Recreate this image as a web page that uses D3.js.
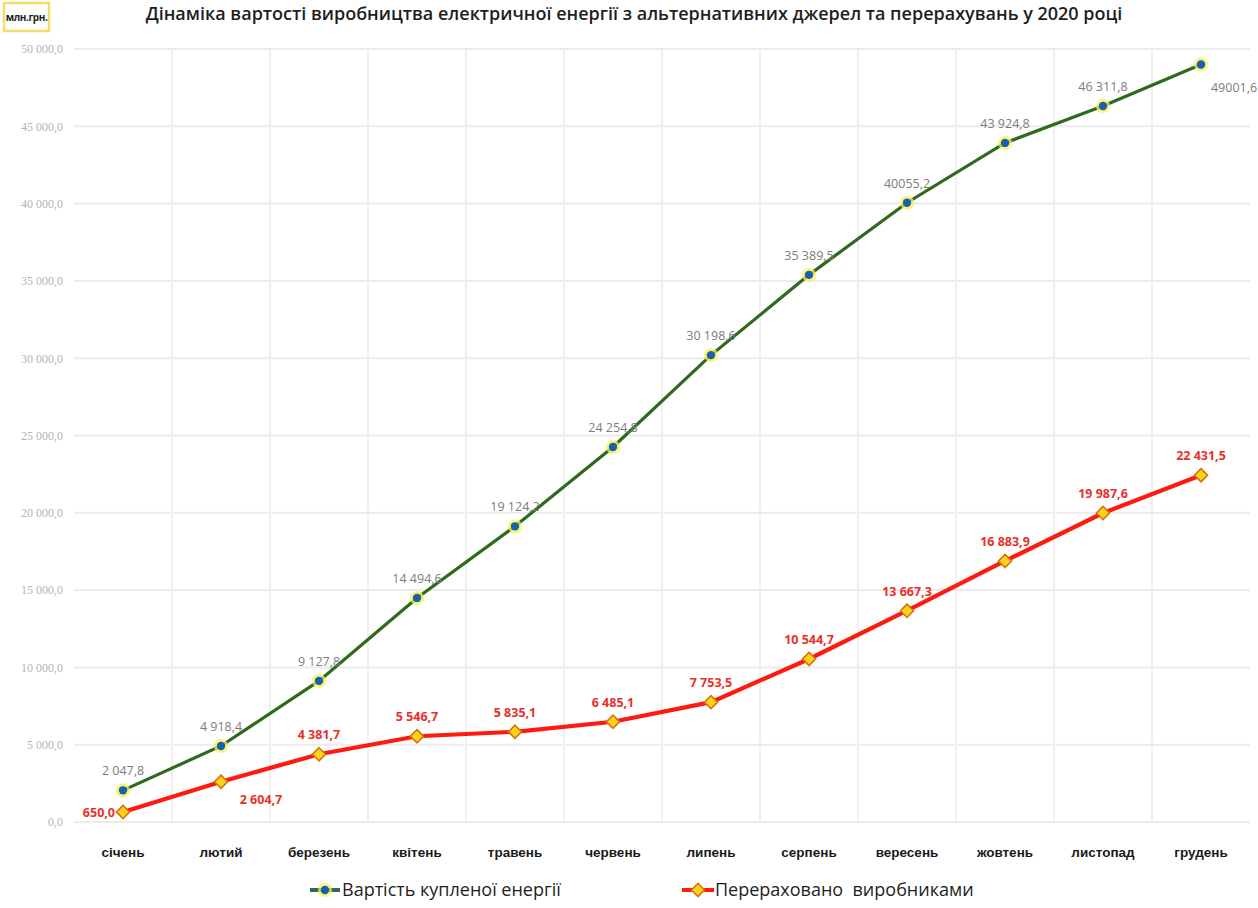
<!DOCTYPE html>
<html>
<head>
<meta charset="utf-8">
<script src="https://cdn.jsdelivr.net/npm/d3@7"></script>
<style>
  body { margin: 0; background: #fff; }
  svg { display: block; font-family: "Open Sans", sans-serif; }
</style>
</head>
<body>
<svg id="chart" width="1258" height="908"></svg>
<script>
const months = ["січень", "лютий", "березень", "квітень", "травень", "червень",
  "липень", "серпень", "вересень", "жовтень", "листопад", "грудень"];
const purchased = [2047.8, 4918.4, 9127.8, 14494.6, 19124.2, 24254.8,
  30198.6, 35389.5, 40055.2, 43924.8, 46311.8, 49001.6];
const transferred = [650.0, 2604.7, 4381.7, 5546.7, 5835.1, 6485.1,
  7753.5, 10544.7, 13667.3, 16883.9, 19987.6, 22431.5];
const yTicks = [0, 5000, 10000, 15000, 20000, 25000, 30000, 35000, 40000, 45000, 50000];

const title = "Дінаміка вартості виробництва електричної енергії з альтернативних джерел та перерахувань у 2020 році";
const unitLabel = "млн.грн.";
const seriesNames = ["Вартість купленої енергії", "Перераховано  виробниками"];

// number format like "49 001,6"
const fmtNum = (v, sep = " ") => {
  const [i, f] = v.toFixed(1).split(".");
  return i.replace(/\B(?=(\d{3})+(?!\d))/g, sep) + "," + f;
};
// two labels in the source are printed without the thousands space
const noSpace = new Set([8, 11]);

const svg = d3.select("#chart");
const margin = { left: 74, right: 8, top: 49, bottom: 86 };
const width = 1258, height = 908;

const x = d3.scaleBand().domain(months).range([margin.left, width - margin.right]);
const y = d3.scaleLinear().domain([0, 50000]).range([height - margin.bottom, margin.top]);
const cx = (d) => x(d) + x.bandwidth() / 2;

// grid
const grid = svg.append("g").attr("class", "grid");
grid.selectAll("line.h")
  .data(yTicks)
  .join("line")
  .attr("class", "h")
  .attr("x1", margin.left).attr("x2", width - margin.right)
  .attr("y1", (d) => y(d)).attr("y2", (d) => y(d))
  .attr("stroke", "#ececec").attr("stroke-width", 2);
grid.selectAll("line.v")
  .data(months.slice(1))
  .join("line")
  .attr("class", "v")
  .attr("x1", (d) => x(d)).attr("x2", (d) => x(d))
  .attr("y1", y(50000)).attr("y2", y(0))
  .attr("stroke", "#f0f0f0").attr("stroke-width", 2);

// y axis labels
const yAxis = svg.append("g")
  .attr("transform", `translate(${margin.left - 8},0)`)
  .call(d3.axisLeft(y).tickValues(yTicks).tickFormat((d) => fmtNum(d)).tickSize(0));
yAxis.select(".domain").remove();
yAxis.selectAll("text")
  .attr("fill", "#b4b4b4")
  .attr("font-family", "'Liberation Serif', serif")
  .attr("font-size", 12);

// x axis labels
const xAxis = svg.append("g")
  .attr("transform", `translate(0,${y(0) + 20})`)
  .call(d3.axisBottom(x).tickSize(0));
xAxis.select(".domain").remove();
xAxis.selectAll("text")
  .attr("fill", "#1a1a1a")
  .attr("font-size", 13.5)
  .attr("font-weight", 600)
  .attr("dy", "0.9em");

const line = d3.line().x((d, i) => cx(months[i])).y((d) => y(d));

// green series
svg.append("path")
  .datum(purchased)
  .attr("fill", "none")
  .attr("stroke", "#2f6a1c")
  .attr("stroke-width", 3.2)
  .attr("d", line);

// red series
svg.append("path")
  .datum(transferred)
  .attr("fill", "none")
  .attr("stroke", "#ff1a10")
  .attr("stroke-width", 4.2)
  .attr("d", line);

const greenMarker = (g) => {
  g.append("circle").attr("r", 7).attr("fill", "#f6f24a").attr("opacity", 0.75);
  g.append("circle").attr("r", 4.2).attr("fill", "#1a5fb0");
};
const diamond = d3.symbol().type(d3.symbolDiamond2).size(110);
const redMarker = (g) => {
  g.append("path").attr("d", diamond).attr("fill", "#ffd21a")
    .attr("stroke", "#d4740e").attr("stroke-width", 1.6);
};

svg.append("g").selectAll("g")
  .data(purchased)
  .join("g")
  .attr("transform", (d, i) => `translate(${cx(months[i])},${y(d)})`)
  .each(function () { greenMarker(d3.select(this)); });

svg.append("g").selectAll("g")
  .data(transferred)
  .join("g")
  .attr("transform", (d, i) => `translate(${cx(months[i])},${y(d)})`)
  .each(function () { redMarker(d3.select(this)); });

// data labels
svg.append("g").selectAll("text")
  .data(purchased)
  .join("text")
  .attr("x", (d, i) => cx(months[i]) + (i === 11 ? 33 : 0))
  .attr("y", (d, i) => y(d) + (i === 11 ? 28 : -15))
  .attr("text-anchor", "middle")
  .attr("fill", "#7c7c7c")
  .attr("font-size", 12.5)
  .text((d, i) => fmtNum(d, noSpace.has(i) ? "" : " "));

svg.append("g").selectAll("text")
  .data(transferred)
  .join("text")
  .attr("x", (d, i) => cx(months[i]) + (i === 0 ? -8 : i === 1 ? 40 : 0))
  .attr("y", (d, i) => y(d) + (i === 0 ? 5 : i === 1 ? 22 : -15))
  .attr("text-anchor", (d, i) => (i === 0 ? "end" : "middle"))
  .attr("fill", "#e8302a")
  .attr("font-size", 12.5)
  .attr("font-weight", 700)
  .text((d) => fmtNum(d));

// title
svg.append("text")
  .attr("x", 634).attr("y", 20)
  .attr("text-anchor", "middle")
  .attr("font-size", 18)
  .attr("font-weight", 600)
  .attr("fill", "#1e1e1e")
  .text(title);

// unit box
svg.append("rect")
  .attr("x", 4).attr("y", 3).attr("width", 45).attr("height", 28)
  .attr("fill", "#fff").attr("stroke", "#f5dc6a").attr("stroke-width", 2.5);
svg.append("text")
  .attr("x", 26.5).attr("y", 21)
  .attr("text-anchor", "middle")
  .attr("font-size", 10)
  .attr("letter-spacing", -0.4)
  .attr("font-weight", 700)
  .attr("fill", "#1e1e1e")
  .text(unitLabel);

// legend
const legend = svg.append("g").attr("transform", `translate(0,${height - 18})`);
const lg1 = legend.append("g").attr("transform", "translate(310,0)");
lg1.append("line").attr("x1", 0).attr("x2", 30).attr("stroke", "#2f6a5a").attr("stroke-width", 4);
greenMarker(lg1.append("g").attr("transform", "translate(15,0)"));
lg1.append("text").attr("x", 32).attr("y", 6).attr("font-size", 18).attr("fill", "#1e1e1e").text(seriesNames[0]);

const lg2 = legend.append("g").attr("transform", "translate(682,0)");
lg2.append("line").attr("x1", 0).attr("x2", 32).attr("stroke", "#ff1a10").attr("stroke-width", 4);
redMarker(lg2.append("g").attr("transform", "translate(16,0)"));
lg2.append("text").attr("x", 33).attr("y", 6).attr("font-size", 18).attr("fill", "#1e1e1e")
  .style("white-space", "pre").text(seriesNames[1]);
</script>
</body>
</html>
